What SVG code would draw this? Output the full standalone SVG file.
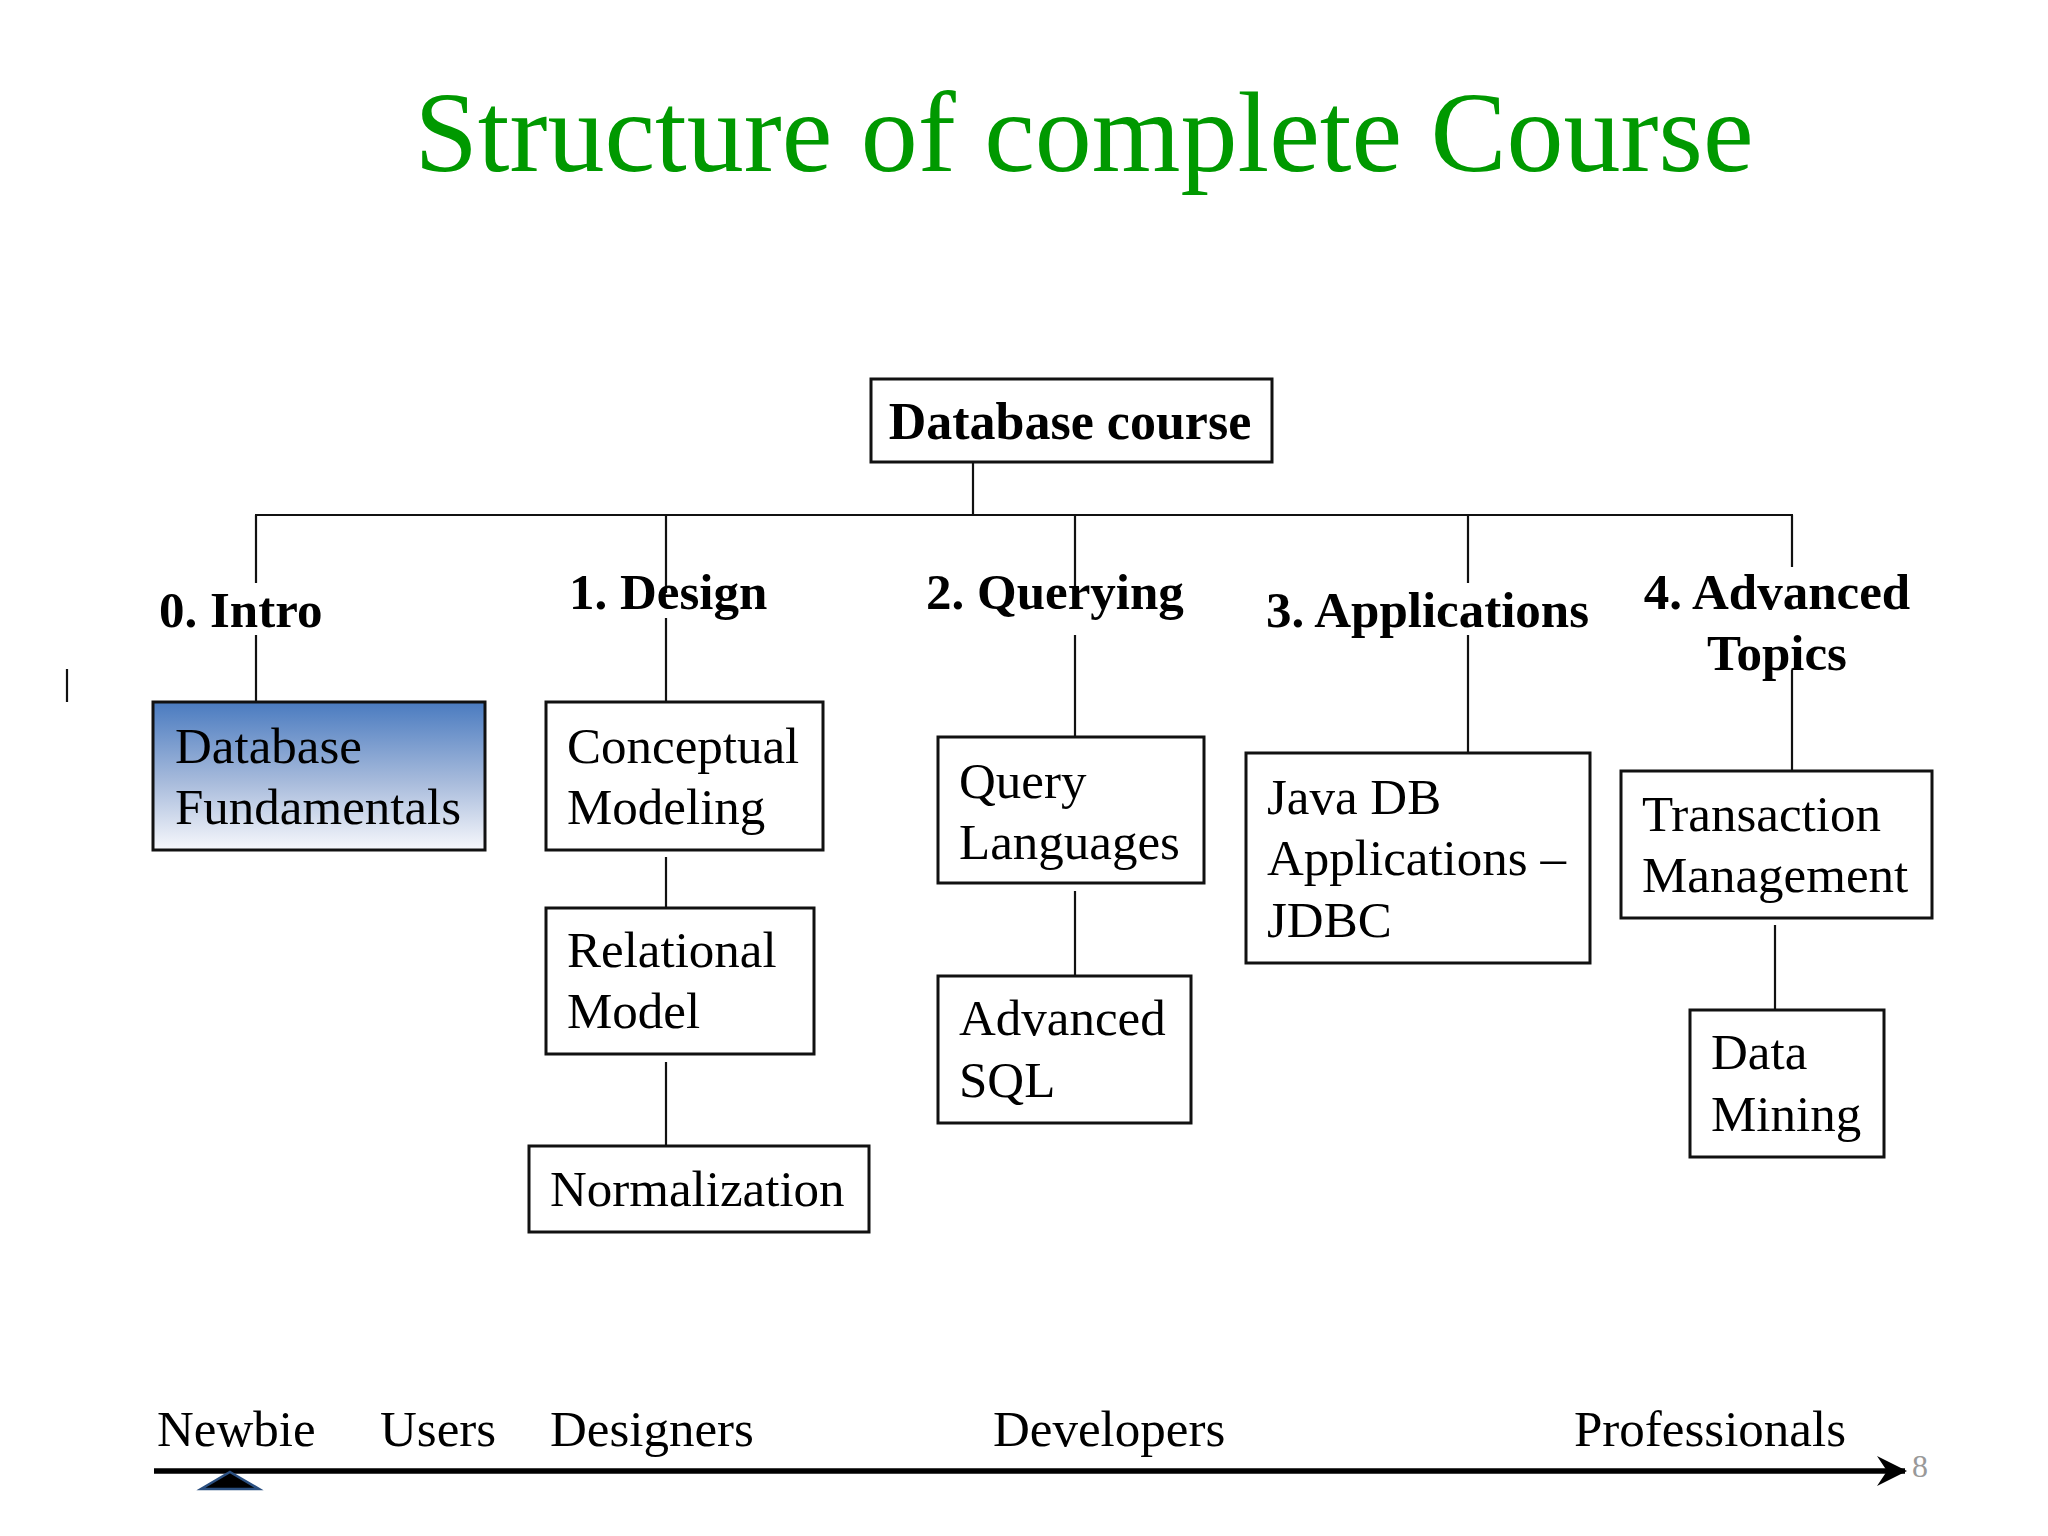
<svg xmlns="http://www.w3.org/2000/svg" width="2048" height="1536" viewBox="0 0 2048 1536">
<defs>
<linearGradient id="blueFill" x1="0" y1="0" x2="0" y2="1">
<stop offset="0" stop-color="#4a7bc0"/>
<stop offset="0.55" stop-color="#a9bcdc"/>
<stop offset="1" stop-color="#f7f8fc"/>
</linearGradient>
<marker id="arrowHead" viewBox="0 0 30 30" refX="28" refY="15" markerWidth="30" markerHeight="30" markerUnits="userSpaceOnUse" orient="auto">
<path d="M0,0 L30,15 L0,30 L10,15 Z" fill="#000"/>
</marker>
<style>
.box{fill:#fff;stroke:#111;stroke-width:3}
.conn{stroke:#111;stroke-width:2.2;fill:none}
.lbl{font-family:"Liberation Serif","Times New Roman",serif;font-weight:bold;font-size:51px;fill:#000}
.txt{font-family:"Liberation Serif","Times New Roman",serif;font-size:51px;fill:#000}
</style>
</defs>
<rect width="2048" height="1536" fill="#fff"/>
<text x="1084" y="171" text-anchor="middle" font-family="Liberation Serif, Times New Roman, serif" font-size="114" fill="#009900">Structure of complete Course</text>

<g id="connectors">
<line class="conn" x1="973" y1="462" x2="973" y2="515"/>
<line class="conn" x1="255" y1="515" x2="1793" y2="515" stroke-width="3"/>
<path class="conn" d="M256,515 V583 M256,635 V702"/>
<path class="conn" d="M666,515 V593 M666,618 V702"/>
<path class="conn" d="M1075,515 V593 M1075,635 V737"/>
<path class="conn" d="M1468,515 V583 M1468,635 V753"/>
<path class="conn" d="M1792,515 V567 M1792,670 V771"/>
<line class="conn" x1="666" y1="857" x2="666" y2="908"/>
<line class="conn" x1="666" y1="1062" x2="666" y2="1146"/>
<line class="conn" x1="1075" y1="891" x2="1075" y2="976"/>
<line class="conn" x1="1775" y1="925" x2="1775" y2="1010"/>
<line class="conn" x1="67" y1="669" x2="67" y2="702"/>
</g>

<g id="root">
<rect class="box" x="871" y="379" width="401" height="83"/>
<text class="lbl" x="1070" y="439" text-anchor="middle" style="font-size:52px">Database course</text>
</g>
<g id="lbl-intro"><text class="lbl" x="159" y="627">0. Intro</text></g>
<g id="lbl-design"><text class="lbl" x="569" y="609">1. Design</text></g>
<g id="lbl-querying"><text class="lbl" x="926" y="609">2. Querying</text></g>
<g id="lbl-applications"><text class="lbl" x="1266" y="627">3. Applications</text></g>
<g id="lbl-advanced"><text class="lbl" x="1777" y="609" text-anchor="middle">4. Advanced</text><text class="lbl" x="1777" y="670" text-anchor="middle">Topics</text></g>

<g id="db-fundamentals">
<rect class="box" x="153" y="702" width="332" height="148" fill="url(#blueFill)" style="fill:url(#blueFill)"/>
<text class="txt" x="175" y="763">Database</text>
<text class="txt" x="175" y="824">Fundamentals</text>
</g>
<g id="conceptual">
<rect class="box" x="546" y="702" width="277" height="148"/>
<text class="txt" x="567" y="763">Conceptual</text>
<text class="txt" x="567" y="824">Modeling</text>
</g>
<g id="relational">
<rect class="box" x="546" y="908" width="268" height="146"/>
<text class="txt" x="567" y="967">Relational</text>
<text class="txt" x="567" y="1028">Model</text>
</g>
<g id="normalization">
<rect class="box" x="529" y="1146" width="340" height="86"/>
<text class="txt" x="550" y="1206">Normalization</text>
</g>
<g id="query-languages">
<rect class="box" x="938" y="737" width="266" height="146"/>
<text class="txt" x="959" y="798">Query</text>
<text class="txt" x="959" y="859">Languages</text>
</g>
<g id="advanced-sql">
<rect class="box" x="938" y="976" width="253" height="147"/>
<text class="txt" x="959" y="1035">Advanced</text>
<text class="txt" x="959" y="1097">SQL</text>
</g>
<g id="java-db">
<rect class="box" x="1246" y="753" width="344" height="210"/>
<text class="txt" x="1267" y="814">Java DB</text>
<text class="txt" x="1267" y="875">Applications –</text>
<text class="txt" x="1267" y="937">JDBC</text>
</g>
<g id="transaction">
<rect class="box" x="1621" y="771" width="311" height="147"/>
<text class="txt" x="1642" y="831">Transaction</text>
<text class="txt" x="1642" y="892">Management</text>
</g>
<g id="data-mining">
<rect class="box" x="1690" y="1010" width="194" height="147"/>
<text class="txt" x="1711" y="1069">Data</text>
<text class="txt" x="1711" y="1131">Mining</text>
</g>

<g id="scale">
<line x1="154" y1="1471" x2="1905" y2="1471" stroke="#000" stroke-width="5.5" marker-end="url(#arrowHead)"/>
<path d="M230,1472 L259,1489 L201,1489 Z" fill="#000" stroke="#2a4f80" stroke-width="2.5"/>
<text class="txt" x="157" y="1446">Newbie</text>
<text class="txt" x="380" y="1446">Users</text>
<text class="txt" x="550" y="1446">Designers</text>
<text class="txt" x="993" y="1446">Developers</text>
<text class="txt" x="1574" y="1446">Professionals</text>
<text x="1912" y="1477" font-family="Liberation Serif, Times New Roman, serif" font-size="32" fill="#999">8</text>
</g>
</svg>
